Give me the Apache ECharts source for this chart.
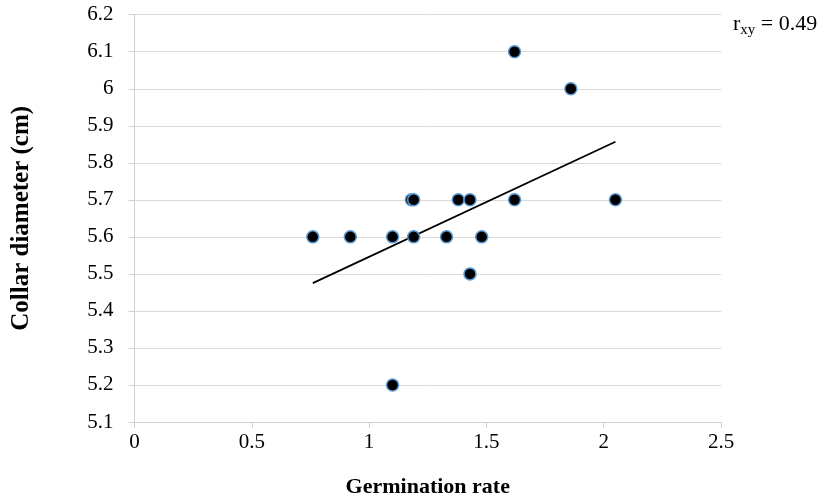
<!DOCTYPE html>
<html>
<head>
<meta charset="utf-8">
<script src="https://cdn.jsdelivr.net/npm/echarts@6/dist/echarts.min.js"></script>
<style>html,body{margin:0;padding:0;background:#fff}#c{width:832px;height:503px}</style>
</head>
<body>
<div id="c"></div>
<script>
const germination = [0.76,0.92,1.10,1.19,1.33,1.48,1.18,1.19,1.38,1.43,1.62,2.05,1.43,1.62,1.86,1.10];
const collar      = [5.6, 5.6, 5.6, 5.6, 5.6, 5.6, 5.7, 5.7, 5.7, 5.7, 5.7, 5.7, 5.5, 6.1, 6.0, 5.2];
const trendX = [0.76, 2.05];
const trendY = [5.475, 5.857];
const xTicks = [0, 0.5, 1, 1.5, 2, 2.5];
const yTicks = [5.1,5.2,5.3,5.4,5.5,5.6,5.7,5.8,5.9,6,6.1,6.2];
const rText = '0.49';

const font = 'Liberation Serif, Times New Roman, serif';
const chart = echarts.init(document.getElementById('c'));
chart.setOption({
  animation: false,
  grid: {left: 134.5, right: 111, top: 14.7, bottom: 80.3, containLabel: false},
  xAxis: {
    type: 'value', min: xTicks[0], max: xTicks[xTicks.length-1], interval: 0.5,
    name: 'Germination rate', nameLocation: 'middle', nameGap: 54,
    nameTextStyle: {fontFamily: font, fontSize: 22, fontWeight: 'bold', color: '#000'},
    axisLine: {show: true, lineStyle: {color: '#d0d0d0', width: 1}},
    axisTick: {show: true, length: 6, lineStyle: {color: '#d0d0d0'}},
    axisLabel: {fontFamily: font, fontSize: 21, color: '#000', margin: 10},
    splitLine: {show: false}
  },
  yAxis: {
    type: 'value', min: yTicks[0], max: yTicks[yTicks.length-1], interval: 0.1,
    name: 'Collar diameter (cm)', nameLocation: 'middle', nameGap: 100, nameRotate: 90,
    nameTextStyle: {fontFamily: font, fontSize: 25, fontWeight: 'bold', color: '#000'},
    axisLine: {show: true, lineStyle: {color: '#d0d0d0', width: 1}},
    axisTick: {show: true, length: 6, lineStyle: {color: '#d0d0d0'}},
    axisLabel: {fontFamily: font, fontSize: 21, color: '#000', margin: 21,
      formatter: v => String(Math.round(v*10)/10)},
    splitLine: {show: true, lineStyle: {color: '#d9d9d9', width: 1}}
  },
  series: [
    {
      type: 'line', data: trendX.map((x,i)=>[x, trendY[i]]), symbol: 'none',
      lineStyle: {color: '#000', width: 1.8}, z: 3
    },
    {
      type: 'scatter', data: germination.map((x,i)=>[x, collar[i]]),
      symbolSize: 12,
      itemStyle: {color: '#000', borderColor: '#5b9bd5', borderWidth: 1.5, opacity: 1}, z: 4
    }
  ],
  graphic: [{
    type: 'text', left: 733, top: 13,
    style: {
      text: '{r|r}{s|xy}{r| = ' + rText + '}',
      rich: {
        r: {fontFamily: font, fontSize: 22, fill: '#000'},
        s: {fontFamily: font, fontSize: 15, fill: '#000', verticalAlign: 'bottom', padding: [12,0,0,0]}
      }
    }
  }]
});
</script>
</body>
</html>
